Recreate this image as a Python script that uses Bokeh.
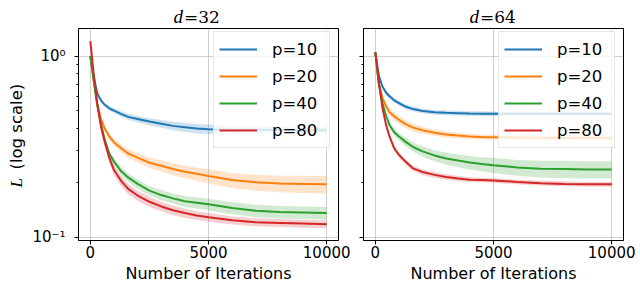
import numpy as np
from bokeh.plotting import figure
from bokeh.layouts import row
from bokeh.models import (FixedTicker, CustomJSTickFormatter, Legend, LegendItem,
                          Label, Range1d)
from bokeh.embed import file_html
from bokeh.resources import INLINE

# ---------------- data ----------------
ITER = [0, 150, 300, 450, 600, 800, 1000, 1300, 1600, 2000, 2500, 3000, 3500,
        4000, 4500, 5000, 6000, 7000, 8000, 9000, 10000]
P_LABELS = ["p=10", "p=20", "p=40", "p=80"]
COLORS = ["#1f77b4", "#ff7f0e", "#2ca02c", "#d62728"]
X_TICKS = [0, 5000, 10000]
Y_MAJOR = [0.1, 1.0]
Y_MINOR = [0.2, 0.3, 0.4, 0.5, 0.6, 0.7, 0.8, 0.9]
TITLES = ["=32", "=64"]

D32_P10 = [1.0, 0.76, 0.62, 0.57, 0.54, 0.515, 0.50, 0.48, 0.462, 0.45, 0.435, 0.423,
           0.412, 0.405, 0.398, 0.395, 0.393, 0.392, 0.391, 0.39, 0.39]
D32_P20 = [1.0, 0.72, 0.54, 0.45, 0.40, 0.36, 0.335, 0.31, 0.29, 0.275, 0.258, 0.248,
           0.238, 0.23, 0.224, 0.218, 0.207, 0.201, 0.198, 0.197, 0.196]
D32_P40 = [1.0, 0.72, 0.53, 0.42, 0.35, 0.29, 0.262, 0.232, 0.214, 0.197, 0.181, 0.171,
           0.164, 0.158, 0.155, 0.152, 0.145, 0.140, 0.138, 0.137, 0.136]
D32_P80 = [1.21, 0.78, 0.54, 0.41, 0.34, 0.275, 0.235, 0.205, 0.185, 0.17, 0.157, 0.148,
           0.141, 0.136, 0.132, 0.129, 0.124, 0.121, 0.12, 0.119, 0.118]
D32_S10 = [0.01, 0.02, 0.02, 0.02, 0.025, 0.03, 0.03, 0.035, 0.04, 0.04, 0.045, 0.05,
           0.055, 0.06, 0.06, 0.06, 0.05, 0.045, 0.04, 0.04, 0.04]
D32_S20 = [0.01, 0.02, 0.03, 0.03, 0.035, 0.04, 0.045, 0.05, 0.055, 0.06, 0.065, 0.07,
           0.075, 0.08, 0.085, 0.09, 0.095, 0.10, 0.105, 0.11, 0.11]
D32_S40 = [0.01, 0.02, 0.03, 0.03, 0.035, 0.04, 0.045, 0.05, 0.055, 0.06, 0.06, 0.065,
           0.065, 0.07, 0.07, 0.075, 0.075, 0.08, 0.08, 0.08, 0.08]
D32_S80 = [0.02, 0.04, 0.05, 0.06, 0.06, 0.06, 0.065, 0.065, 0.065, 0.065, 0.065, 0.06,
           0.06, 0.06, 0.055, 0.055, 0.05, 0.05, 0.05, 0.05, 0.05]

D64_P10 = [1.05, 0.78, 0.68, 0.63, 0.60, 0.57, 0.55, 0.525, 0.51, 0.498, 0.49, 0.486,
           0.484, 0.482, 0.481, 0.48, 0.48, 0.48, 0.48, 0.48, 0.48]
D64_P20 = [1.05, 0.70, 0.59, 0.53, 0.49, 0.465, 0.445, 0.42, 0.403, 0.39, 0.378, 0.369,
           0.364, 0.36, 0.358, 0.357, 0.355, 0.354, 0.353, 0.353, 0.353]
D64_P40 = [1.05, 0.70, 0.55, 0.47, 0.417, 0.38, 0.36, 0.335, 0.315, 0.298, 0.283, 0.272,
           0.265, 0.259, 0.254, 0.25, 0.243, 0.239, 0.238, 0.237, 0.237]
D64_P80 = [1.05, 0.72, 0.52, 0.42, 0.36, 0.31, 0.285, 0.26, 0.24, 0.229, 0.221, 0.215,
           0.211, 0.208, 0.207, 0.206, 0.202, 0.199, 0.197, 0.196, 0.196]
D64_S10 = [0.01, 0.02, 0.025, 0.03, 0.03, 0.03, 0.03, 0.03, 0.03, 0.03, 0.03, 0.03,
           0.03, 0.03, 0.03, 0.03, 0.025, 0.025, 0.025, 0.025, 0.025]
D64_S20 = [0.01, 0.02, 0.03, 0.04, 0.045, 0.05, 0.05, 0.05, 0.05, 0.045, 0.04, 0.04,
           0.035, 0.035, 0.03, 0.03, 0.03, 0.03, 0.03, 0.03, 0.03]
D64_S40 = [0.01, 0.02, 0.03, 0.035, 0.04, 0.045, 0.05, 0.055, 0.06, 0.065, 0.07, 0.075,
           0.08, 0.085, 0.09, 0.095, 0.10, 0.105, 0.11, 0.11, 0.11]
D64_S80 = [0.01, 0.02, 0.03, 0.035, 0.035, 0.035, 0.035, 0.035, 0.035, 0.035, 0.035,
           0.035, 0.035, 0.03, 0.03, 0.03, 0.03, 0.03, 0.03, 0.03, 0.03]

# ---------------- layout constants ----------------
FONT = "DejaVu Sans"
SERIF = "Liberation Serif"
SERIF2 = "DejaVu Serif"
X0, X1 = -500, 10500
Y0, Y1 = 0.096, 1.42
FRAME_W, FRAME_H = 260, 212
TOP, BOTTOM = 28, 42


def fx(px):
    """pixels from frame left -> data x"""
    return X0 + px / FRAME_W * (X1 - X0)


def fy(px):
    """pixels above frame bottom -> data y (log axis)"""
    l0, l1 = np.log10(Y0), np.log10(Y1)
    return float(10 ** (l0 + px / FRAME_H * (l1 - l0)))


def lab(text, px, py, font=FONT, size="16px", style="normal", align="left", angle=0.0):
    return Label(x=fx(px), y=fy(py), x_units="data", y_units="data", text=text,
                 text_font=font, text_font_size=size, text_font_style=style,
                 text_align=align, text_baseline="alphabetic", text_color="black",
                 angle=angle)


def panel(means, spreads, width, b_left, b_right, first):
    p = figure(width=width, height=TOP + FRAME_H + BOTTOM, x_range=Range1d(X0, X1),
               y_range=Range1d(Y0, Y1), y_axis_type="log",
               output_backend="svg", toolbar_location=None,
               min_border_left=b_left, min_border_right=b_right,
               min_border_top=TOP, min_border_bottom=BOTTOM,
               background_fill_color="white", border_fill_color="white",
               outline_line_color="black", outline_line_width=1)
    items = []
    for lbl, col, m, s in zip(P_LABELS, COLORS, means, spreads):
        m = np.array(m)
        s = np.array(s)
        p.varea(x=ITER, y1=m * (1 - s), y2=m * (1 + s), fill_color=col, fill_alpha=0.22)
        r = p.line(ITER, list(m), line_color=col, line_width=2)
        items.append(LegendItem(label=lbl, renderers=[r]))

    p.xaxis.ticker = FixedTicker(ticks=X_TICKS)
    p.yaxis.ticker = FixedTicker(ticks=Y_MAJOR, minor_ticks=Y_MINOR)
    for ax in (p.xaxis[0], p.yaxis[0]):
        ax.axis_line_color = "black"
        ax.major_tick_line_color = "black"
        ax.minor_tick_line_color = "black"
        ax.major_tick_out = 4
        ax.major_tick_in = 0
        ax.minor_tick_out = 2
        ax.minor_tick_in = 0
        ax.major_label_text_font = FONT
        ax.major_label_text_font_size = "15px"
        ax.major_label_text_color = "black"
    p.xaxis.major_label_standoff = 1
    if first:
        p.yaxis.major_label_standoff = 9
        p.yaxis.formatter = CustomJSTickFormatter(code="""
            const e = Math.round(Math.log10(tick));
            const sup = {"-": "\\u207B", "0": "\\u2070", "1": "\\u00B9", "2": "\\u00B2", "3": "\\u00B3"};
            return "10" + String(e).split("").map(c => sup[c]).join("");
        """)
    else:
        p.yaxis.major_label_standoff = 0
        p.yaxis.formatter = CustomJSTickFormatter(code="return '';")
        p.yaxis.major_label_text_font_size = "0px"

    p.grid.grid_line_color = "#b0b0b0"
    p.grid.grid_line_alpha = 0.6
    p.grid.grid_line_width = 1

    legend = Legend(items=items, location=(135, 92),
                    label_text_font=FONT, label_text_font_size="16.5px",
                    label_text_color="black",
                    glyph_width=38, glyph_height=24, label_height=24,
                    label_width=52, label_standoff=15, spacing=3, padding=5,
                    margin=0, border_line_color="#d0d0d0", border_line_width=1,
                    background_fill_color="white", background_fill_alpha=0.8)
    p.add_layout(legend)

    # x-axis label (side panel, so it is not clipped to the frame)
    p.add_layout(lab("Number of Iterations", 130, -33, align="center"), "below")
    return p


p1 = panel([D32_P10, D32_P20, D32_P40, D32_P80], [D32_S10, D32_S20, D32_S40, D32_S80],
           359, 78, 21, True)
p2 = panel([D64_P10, D64_P20, D64_P40, D64_P80], [D64_S10, D64_S20, D64_S40, D64_S80],
           281, 4, 17, False)

# titles: italic d + upright "=NN"
p1.add_layout(lab("d", 104.5, 224, font=SERIF, size="19px", style="italic", align="right"), "left")
p1.add_layout(lab(TITLES[0], 105.5, 224, font=SERIF2, size="17px"), "above")
p2.add_layout(lab("d", 115.5, 224, font=SERIF, size="19px", style="italic", align="right"), "right")
p2.add_layout(lab(TITLES[1], 116.5, 224, font=SERIF2, size="17px"), "above")

# y-axis label: italic L + "(log scale)", rotated
p1.add_layout(lab("L", -62, 53, font=SERIF, size="17px", style="italic", angle=np.pi / 2), "right")
p1.add_layout(lab("(log scale)", -62, 71, size="16.5px", angle=np.pi / 2), "left")

layout = row(p1, p2)
with open("out.html", "w", encoding="utf-8") as f:
    f.write(file_html(layout, INLINE))
